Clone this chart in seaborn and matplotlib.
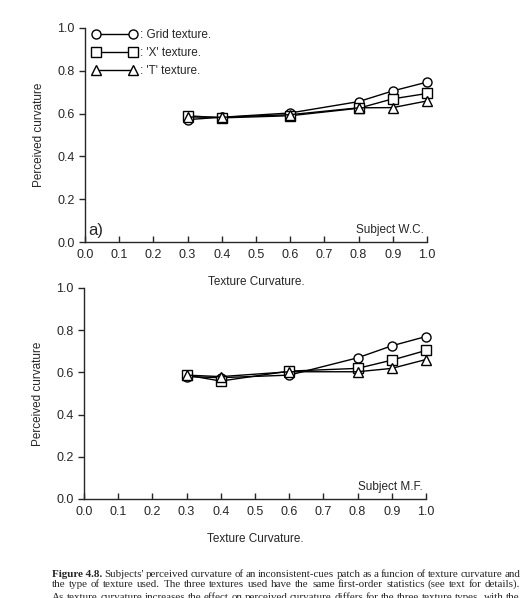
import seaborn as sns
import matplotlib.pyplot as plt
import pandas as pd
import numpy as np
from matplotlib.lines import Line2D

# ── data ────────────────────────────────────────────────────────────────────
texture_curv = [0.3, 0.4, 0.6, 0.8, 0.9, 1.0]
textures = ["Grid", "X", "T"]
legend_labels = [": Grid texture.", ": 'X' texture.", ": 'T' texture."]

wc_grid = [0.572, 0.583, 0.603, 0.656, 0.706, 0.747]
wc_x    = [0.590, 0.580, 0.590, 0.625, 0.669, 0.694]
wc_t    = [0.584, 0.583, 0.595, 0.627, 0.628, 0.659]

mf_grid = [0.580, 0.575, 0.587, 0.669, 0.726, 0.770]
mf_x    = [0.587, 0.559, 0.606, 0.619, 0.658, 0.704]
mf_t    = [0.587, 0.580, 0.603, 0.603, 0.619, 0.661]

x_ticks = np.round(np.arange(0, 1.01, 0.1), 1)
y_ticks = np.round(np.arange(0, 1.01, 0.2), 1)

markers = {"Grid": "o", "X": "s", "T": "^"}

caption_lines = [
    "Subjects' perceived curvature of an inconsistent-cues patch as a funcion of texture curvature and",
    "the type of texture used.  The three textures used have the same first-order statistics (see text for details).",
    "As texture curvature increases the effect on perceived curvature differs for the three texture types, with the",
]


def long_df(grid, xs, ts):
    return pd.DataFrame({
        "curv": texture_curv * 3,
        "perc": grid + xs + ts,
        "texture": ["Grid"] * 6 + ["X"] * 6 + ["T"] * 6,
    })


sns.set_style("ticks")
plt.rcParams["font.family"] = ["Liberation Sans", "DejaVu Sans"]

fig = plt.figure(figsize=(5.29, 5.98), dpi=100)
ax_top = fig.add_axes([0.1607, 0.5953, 0.6465, 0.3579])
ax_bot = fig.add_axes([0.1588, 0.1656, 0.6465, 0.3528])

panels = [
    (ax_top, long_df(wc_grid, wc_x, wc_t), "Subject W.C."),
    (ax_bot, long_df(mf_grid, mf_x, mf_t), "Subject M.F."),
]

for ax, df, subj in panels:
    sns.lineplot(data=df, x="curv", y="perc", style="texture", markers=markers,
                 dashes=False, color="black", lw=1.0, ms=6.5,
                 markerfacecolor="white", markeredgecolor="black",
                 markeredgewidth=1.0, legend=False, ax=ax, clip_on=False)
    ax.set_xlim(0, 1)
    ax.set_ylim(0, 1)
    ax.set_xticks(x_ticks)
    ax.set_yticks(y_ticks)
    ax.set_xticklabels([f"{v:.1f}" for v in x_ticks])
    ax.set_yticklabels([f"{v:.1f}" for v in y_ticks])
    ax.tick_params(axis="x", direction="in", length=4, width=1, labelsize=9, pad=5)
    ax.tick_params(axis="y", direction="out", length=4, width=1, labelsize=9)
    for s in ["top", "right"]:
        ax.spines[s].set_visible(False)
    for s in ["left", "bottom"]:
        ax.spines[s].set_linewidth(1.0)
    ax.set_xlabel("Texture Curvature.", fontsize=8.5, labelpad=11)
    ax.set_ylabel("Perceived curvature", fontsize=8.5, labelpad=9)
    ax.text(0.99, 0.055, subj, transform=ax.transAxes, ha="right", va="center", fontsize=8.5)

ax_top.text(0.01, 0.055, "a)", transform=ax_top.transAxes, ha="left", va="center", fontsize=12)

handles = [Line2D([0], [0], color="black", lw=1.0, marker=markers[t], ms=6.5,
                  markerfacecolor="white", markeredgecolor="black") for t in textures]
ax_top.legend(handles, legend_labels, loc="upper left", frameon=False, numpoints=2,
              handlelength=3.7, handletextpad=0.35, fontsize=8.5, labelspacing=0.5,
              borderaxespad=0.0, borderpad=0.0, bbox_to_anchor=(0.022, 0.995))

# ── caption (justified, last line cut by the page edge as in the scan) ─────
cap_kw = dict(family=["Liberation Serif", "DejaVu Serif"], fontsize=7.95, va="baseline")
W = fig.bbox.width
x_left, x_right = 52, 520
baselines = [577, 587, 600]
fig.canvas.draw()
r = fig.canvas.get_renderer()
for i, (line, yb) in enumerate(zip(caption_lines, baselines)):
    words = line.split()
    y = 1 - yb / 598
    pieces = []
    if i == 0:
        pieces.append(fig.text(0, y, "Figure 4.8.", fontweight="bold", **cap_kw))
    pieces += [fig.text(0, y, w, **cap_kw) for w in words]
    widths = [p.get_window_extent(r).width for p in pieces]
    gap = (x_right - x_left - sum(widths)) / (len(pieces) - 1)
    x = x_left
    for p, w in zip(pieces, widths):
        p.set_x(x / W)
        x += w + gap

plt.savefig("out.png", dpi=100)
